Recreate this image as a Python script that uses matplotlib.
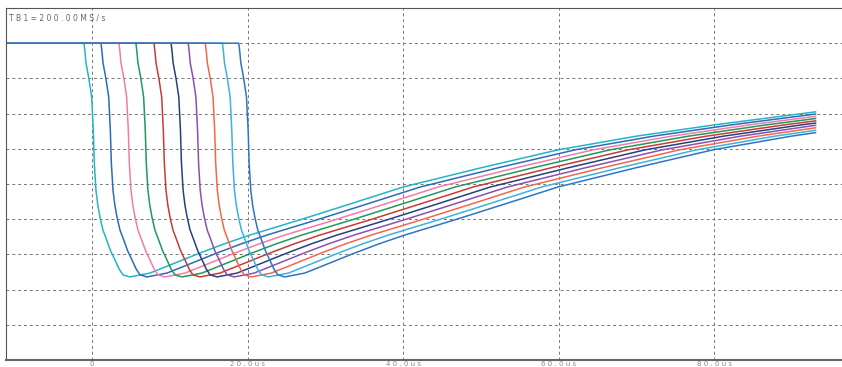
import numpy as np
import matplotlib.pyplot as plt

base_t = [-11.0, -1.03, -0.90, -0.77, -0.40, -0.04, 0.17, 0.30, 0.51, 0.75, 1.03, 1.40, 1.89,
          2.40, 2.96, 3.50, 3.98, 4.88, 7.46, 10.5, 13.88, 17.0, 20.3, 26.7, 33.0,
          40.0, 50.0, 59.9, 70.0, 80.0, 93.0]
base_v = [4.0, 4.0, 3.75, 3.44, 3.0, 2.47, 1.53, 0.60, -0.17, -0.60, -0.94, -1.30, -1.59,
          -1.90, -2.16, -2.42, -2.58, -2.64, -2.53, -2.26, -1.96, -1.70, -1.45, -1.02, -0.58,
          -0.085, 0.46, 0.97, 1.36, 1.68, 2.05]

# delay of each trace's falling edge relative to the first one (us)
delays = [0.0, 2.19, 4.5, 6.68, 9.0, 11.2, 13.4, 15.6, 17.8, 19.9]
colors = ['#22b5c5', '#2b6cb8', '#f27ca8', '#1d9a5c', '#c93a35',
          '#27407d', '#8a50b0', '#f2674a', '#3bb2e0', '#2f74c4']
t_end = 93.0

xticks = [0, 20, 40, 60, 80]
xlabels = ['0', '2 0 . 0 u s', '4 0 . 0 u s', '6 0 . 0 u s', '8 0 . 0 u s']
yticks = [-4, -3, -2, -1, 0, 1, 2, 3, 4]

fig = plt.figure(figsize=(8.42, 3.67), dpi=100)
ax = fig.add_axes([6 / 842, 7 / 367, 836 / 842, 352 / 367])

bt = np.array(base_t)
bv = np.array(base_v)
for d, c in zip(delays, colors):
    t = bt + d
    keep = t <= t_end
    t_c = np.append(t[keep], t_end)
    v_c = np.append(bv[keep], np.interp(t_end - d, bt, bv))
    t_c[0] = base_t[0]
    ax.plot(t_c, v_c, color=c, lw=1.1, solid_joinstyle='round')

ax.set_xlim(-11.05, 96.4)
ax.set_ylim(-5, 5)
ax.set_xticks(xticks)
ax.set_xticklabels(xlabels, fontsize=5, color='#888888')
ax.set_yticks(yticks)
ax.tick_params(axis='y', length=0, labelleft=False)
ax.tick_params(axis='x', length=0, pad=1)
ax.grid(True, color='#777777', lw=0.7, ls=(0, (3, 3)))

for s in ['left', 'top']:
    ax.spines[s].set_color('#555555')
    ax.spines[s].set_linewidth(0.8)
ax.spines['bottom'].set_color('#666666')
ax.spines['bottom'].set_linewidth(1.5)
ax.spines['right'].set_visible(False)

ax.text(0.003, 0.985, 'T B 1 = 2 0 0 . 0 0 M S / s', transform=ax.transAxes,
        fontsize=5.5, color='#666666', va='top', ha='left')

fig.savefig('out.png', dpi=100)
